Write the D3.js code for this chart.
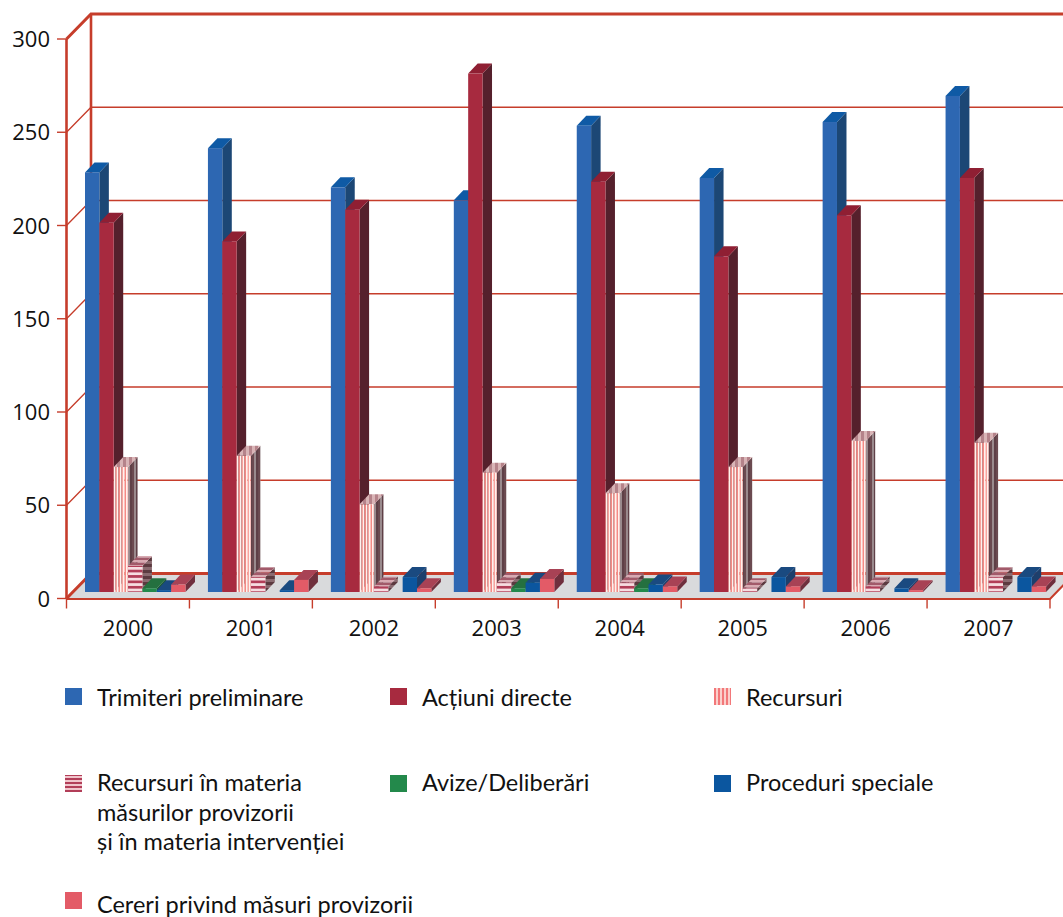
<!DOCTYPE html>
<html><head><meta charset="utf-8">
<script src="https://cdn.jsdelivr.net/npm/d3@7/dist/d3.min.js"></script>
<style>html,body{margin:0;padding:0;background:#fff}svg{display:block}text{font-family:"Open Sans",sans-serif;fill:#111}</style>
</head><body><svg id="c" width="1063" height="917"></svg>
<script>
const years=["2000","2001","2002","2003","2004","2005","2006","2007"];
const trimiteri=[225,238,217,210,250,222,252,266];
const actiuni=[198,188,205,278,220,180,202,222];
const recursuri=[67,73,47,64,53,67,81,80];
const masuri=[14,8,3,5,5,2,3,8];
const avize=[2,0,0,2,2,0,0,0];
const proceduri=[1,1,8,5,4,8,2,8];
const cereri=[4,6.5,2,7,3,3,1,3];
const yTicks=[0,50,100,150,200,250,300];
const seriesNames=["Trimiteri preliminare","Acțiuni directe","Recursuri",["Recursuri în materia","măsurilor provizorii","și în materia intervenției"],"Avize/Deliberări","Proceduri speciale","Cereri privind măsuri provizorii"];
const seriesValues=[trimiteri,actiuni,recursuri,masuri,avize,proceduri,cereri];
const paints=[
 {f:"#2d67b2",t:"#0f5aa5",s:"#1c4775"},
 {f:"#a72a3f",t:"#8f1f33",s:"#55202c"},
 {f:"url(#vF)",t:"url(#vT)",s:"url(#vS)"},
 {f:"url(#hF)",t:"url(#hT)",s:"url(#hS)"},
 {f:"#23894b",t:"#24703f",s:"#1d5a35"},
 {f:"#0b569f",t:"#1a4a80",s:"#1d3f6c"},
 {f:"#e35b67",t:"#a84255",s:"#6f2f3d"}];
const legendPaint=["#2d67b2","#a72a3f","url(#vL)","url(#hL)","#23894b","#0b569f","#e35b67"];
const RED="#c63d2b";
const svg=d3.select("#c");
const defs=svg.append("defs");
function stripes(id,vertical,size,cols){
  const p=defs.append("pattern").attr("id",id).attr("patternUnits","userSpaceOnUse")
    .attr("width",vertical?size:4).attr("height",vertical?4:size);
  const n=cols.length, w=size/n;
  cols.forEach((c,i)=>{
    p.append("rect").attr("x",vertical?i*w:0).attr("y",vertical?0:i*w)
     .attr("width",vertical?w:4).attr("height",vertical?4:w).attr("fill",c);
  });
}
stripes("vF",true,6,["#fff1ee","#f8a49e","#fff1ee","#f58a85"]);
stripes("vT",true,6,["#d9b4b6","#b5838a"]);
stripes("vS",true,6,["#6b4a50","#9a8a8d","#5f4047"]);
stripes("vL",true,4,["#fbd0cc","#f2787a"]);
stripes("hF",false,5.4,["#f6dde1","#b23e58"]);
stripes("hT",false,5,["#d8aab2","#a25a6a"]);
stripes("hS",false,6,["#5c3a40","#8a6a70"]);
stripes("hL",false,4,["#f0c4cb","#b23e58"]);

const W0=66.5,BX=24.5,BY=-25;      // chart frame + wall depth
const y=d3.scaleLinear().domain([0,300]).range([598.5,39]);
const x=d3.scaleBand().domain(years).range([W0,1050]);
const xi=d3.scaleBand().domain(d3.range(7)).range([18.5,119]);
const OFF=6.5,DX=9.5,DY=-10;

// floor
svg.append("path").attr("fill","#d9dadc")
  .attr("d",`M${W0},${y(0)}L${x.range()[1]},${y(0)}L${x.range()[1]+BX},${y(0)+BY}L${W0+BX},${y(0)+BY}Z`);
// back-wall grid + side-wall diagonals
const g=svg.append("g").attr("stroke",RED).attr("fill","none");
g.selectAll(".grid").data(yTicks).join("path").attr("class","grid")
  .attr("stroke-width",d=>(d===0||d===300)?3:1.3)
  .attr("d",d=>`M${W0},${y(d)}L${W0+BX},${y(d)+BY}L1063,${y(d)+BY}`);
g.append("path").attr("stroke-width",2.6).attr("d",`M${W0+BX},${y(300)+BY}V${y(0)+BY}`);
g.append("path").attr("stroke-width",2.6).attr("d",`M${W0},${y(300)}V${y(0)}`);
g.append("path").attr("stroke-width",2).attr("d",`M${W0},${y(0)+0.5}H${x.range()[1]}L${x.range()[1]+BX},${y(0)+BY}`);
g.selectAll(".yt").data(yTicks).join("path").attr("class","yt").attr("stroke-width",1.4)
  .attr("d",d=>`M${W0-9.5},${y(d)}H${W0}`);
g.selectAll(".xt").data(d3.range(9)).join("path").attr("class","xt").attr("stroke-width",1.4)
  .attr("d",i=>`M${W0+i*x.step()},${y(0)}v10`);

// bars
const gb=svg.append("g");
years.forEach((yr,c)=>{
  seriesValues.forEach((vals,s)=>{
    const v=vals[c]; if(!v) return;
    const x0=x(yr)+xi(s), w=xi.bandwidth(), x1=x0+w;
    const yb=y(0)-OFF, yt=y(v)-OFF;
    const p=paints[s];
    gb.append("path").attr("fill",p.s).attr("d",`M${x1},${yb}V${yt}l${DX},${DY}V${yb+DY}Z`);
    gb.append("path").attr("fill",p.t).attr("d",`M${x0},${yt}H${x1}l${DX},${DY}H${x0+DX}Z`);
    gb.append("rect").attr("x",x0).attr("y",yt).attr("width",w).attr("height",yb-yt).attr("fill",p.f);
  });
});

// axis labels
const FS=22;
svg.append("g").selectAll("text").data(yTicks).join("text")
  .attr("x",50).attr("y",d=>y(d)+8).attr("text-anchor","end").attr("font-size",FS).text(d=>d);
svg.append("g").selectAll("text").data(years).join("text")
  .attr("x",d=>x(d)+x.bandwidth()/2).attr("y",636).attr("text-anchor","middle").attr("font-size",FS).text(d=>d);

// legend
const colX=[65,390,714], rowY=[688,775,892];
const lg=svg.append("g");
seriesNames.forEach((n,i)=>{
  const cx=colX[i%3], cy=rowY[Math.floor(i/3)];
  lg.append("rect").attr("x",cx).attr("y",cy).attr("width",17).attr("height",17).attr("fill",legendPaint[i]);
  const lines=Array.isArray(n)?n:[n];
  const base=[706,791,913][Math.floor(i/3)];
  lines.forEach((t,k)=>{
    lg.append("text").attr("x",cx+32).attr("y",base+k*29.5).attr("font-size",23.5)
      .style("font-family","Lato, sans-serif").text(t);
  });
});
</script></body></html>
